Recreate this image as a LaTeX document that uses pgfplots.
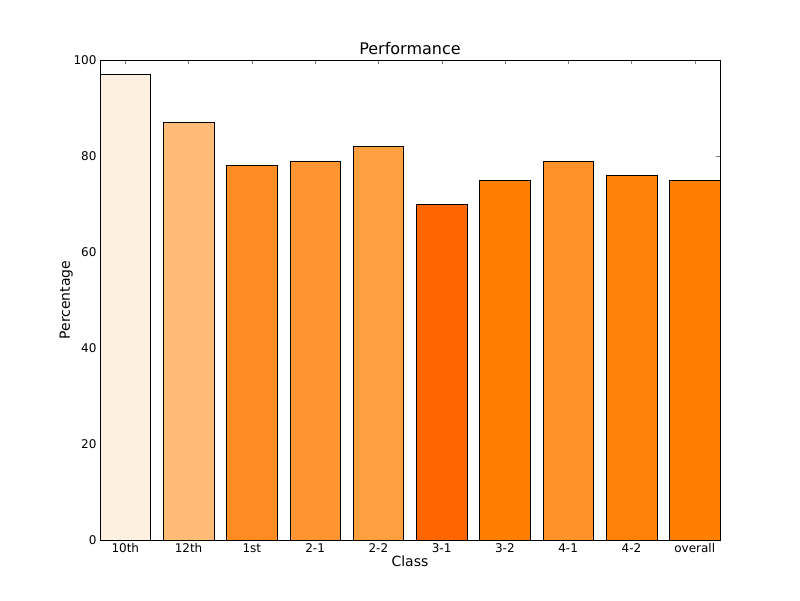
\documentclass[border=0pt]{standalone}
\usepackage{pgfplots}
\pgfplotsset{compat=1.18}
\usepackage{fontspec}
\setmainfont{DejaVu Sans}
\definecolor{c0}{HTML}{FEF0E1}
\definecolor{c1}{HTML}{FFBB77}
\definecolor{c2}{HTML}{FF8C22}
\definecolor{c3}{HTML}{FF9530}
\definecolor{c4}{HTML}{FFA040}
\definecolor{c5}{HTML}{FF6600}
\definecolor{c6}{HTML}{FF7F00}
\definecolor{c7}{HTML}{FF9228}
\definecolor{c8}{HTML}{FF8208}
\definecolor{c9}{HTML}{FF8000}
\begin{document}
\begin{tikzpicture}[x=1pt,y=1pt]
\begin{axis}[at={(0,0)},anchor=south west,
 scale only axis, width=620pt, height=480pt,
 xmin=-0.4, xmax=9.4, ymin=0, ymax=100,
 ybar, bar width=0.8, bar shift=0pt,
 xtick={0,...,9},
 xticklabels={10th,12th,1st,2-1,2-2,3-1,3-2,4-1,4-2,overall},
 ytick={0,20,...,100},
 tick align=inside, major tick length=4pt,
 xtick pos=both, ytick pos=both,
 tick label style={font=\fontsize{12}{14}\selectfont},
 /pgf/number format/assume math mode=true,
 xlabel={Class}, ylabel={Percentage},
 label style={font=\fontsize{14}{16}\selectfont},
 title={Performance}, title style={font=\fontsize{16}{18}\selectfont, yshift=-4pt},
 xlabel style={yshift=4pt}, ylabel style={yshift=-6pt},
]
\addplot[fill=c0,draw=black] coordinates {(0,97)};
\addplot[fill=c1,draw=black] coordinates {(1,87)};
\addplot[fill=c2,draw=black] coordinates {(2,78)};
\addplot[fill=c3,draw=black] coordinates {(3,79)};
\addplot[fill=c4,draw=black] coordinates {(4,82)};
\addplot[fill=c5,draw=black] coordinates {(5,70)};
\addplot[fill=c6,draw=black] coordinates {(6,75)};
\addplot[fill=c7,draw=black] coordinates {(7,79)};
\addplot[fill=c8,draw=black] coordinates {(8,76)};
\addplot[fill=c9,draw=black] coordinates {(9,75)};
\end{axis}
\useasboundingbox (-100pt,-60pt) rectangle (700pt,540pt);
\end{tikzpicture}
\end{document}
